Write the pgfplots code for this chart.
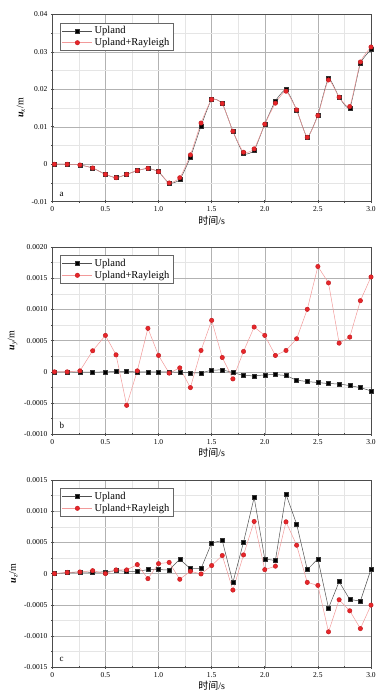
\documentclass[border=0pt]{standalone}
\usepackage{fontspec}
\setmainfont{Liberation Serif}
\newfontfamily\cjk{Noto Sans CJK SC}
\usepackage{pgfplots}
\usepackage{pgfplotstable}
\pgfplotsset{compat=1.18}

\definecolor{rmark}{HTML}{E8262A}
\definecolor{rline}{HTML}{F29A9A}
\definecolor{bline}{HTML}{505050}

\pgfplotstableread{
t a1 a2
0.02 0 0
0.14 0 0
0.26 -0.0002 -0.0002
0.38 -0.0010 -0.0010
0.5 -0.0027 -0.0027
0.6 -0.0036 -0.0036
0.7 -0.0027 -0.0027
0.8 -0.0017 -0.0017
0.9 -0.0011 -0.0011
1.0 -0.0020 -0.0020
1.1 -0.0051 -0.0050
1.2 -0.0041 -0.0036
1.3 0.0019 0.0025
1.4 0.0102 0.0110
1.5 0.0173 0.0173
1.6 0.0162 0.0162
1.7 0.0088 0.0088
1.8 0.0028 0.0032
1.9 0.0037 0.0041
2.0 0.0107 0.0107
2.1 0.0169 0.0163
2.2 0.0199 0.0195
2.3 0.0145 0.0145
2.4 0.0072 0.0072
2.5 0.0132 0.0130
2.6 0.0229 0.0225
2.7 0.0179 0.0179
2.8 0.0150 0.0154
2.9 0.0269 0.0273
3.0 0.0306 0.0313
}\tabA

\pgfplotstableread{
t b1 b2
0.02 0 0
0.14 0 0
0.26 -0.000005 0.000016
0.38 -0.000005 0.000338
0.5 0 0.000584
0.6 0.000005 0.000273
0.7 0.000005 -0.000536
0.8 0 0.000016
0.9 0 0.000697
1.0 0 0.000263
1.1 0 -0.00002
1.2 -0.000005 0.000064
1.3 -0.000016 -0.000252
1.4 -0.000016 0.000343
1.5 0.000027 0.000825
1.6 0.000032 0.00023
1.7 -0.00001 -0.000113
1.8 -0.000059 0.000327
1.9 -0.000064 0.000718
2.0 -0.000048 0.000584
2.1 -0.000043 0.000263
2.2 -0.000059 0.000343
2.3 -0.000134 0.00053
2.4 -0.000155 0.001002
2.5 -0.000171 0.001688
2.6 -0.000188 0.001425
2.7 -0.000193 0.00046
2.8 -0.00022 0.000557
2.9 -0.000252 0.00114
3.0 -0.000305 0.00152
}\tabB

\pgfplotstableread{
t c1 c2
0.02 0 0
0.14 0.000016 0.00002
0.26 0.000027 0.000027
0.38 0.00002 0.000048
0.5 0.00003 0
0.6 0.000048 0.00006
0.7 0.000038 0.00006
0.8 0.000038 0.000145
0.9 0.000064 -0.00008
1.0 0.000064 0.00016
1.1 0.00006 0.00018
1.2 0.00023 -0.00009
1.3 0.00008 0.000038
1.4 0.00008 -0.000005
1.5 0.000493 0.00013
1.6 0.00053 0.00029
1.7 -0.00014 -0.000263
1.8 0.000504 0.0003
1.9 0.00122 0.000836
2.0 0.000236 0.000064
2.1 0.00021 0.00012
2.2 0.00127 0.00083
2.3 0.000793 0.000455
2.4 0.000064 -0.00014
2.5 0.000236 -0.000188
2.6 -0.000552 -0.000932
2.7 -0.000129 -0.000418
2.8 -0.000413 -0.000595
2.9 -0.00044 -0.00088
3.0 0.00007 -0.000504
}\tabC

\pgfplotsset{
  panel/.style={
    width=318.7pt, height=187.3pt, scale only axis,
    xmin=0, xmax=3,
    xtick={0,0.5,1,1.5,2,2.5,3},
    xticklabels={0,0.5,1.0,1.5,2.0,2.5,3.0},
    minor x tick num=1, minor y tick num=1,
    scaled ticks=false,
    grid=both,
    major grid style={black!30, line width=0.5pt},
    minor grid style={black!10, line width=0.4pt},
    axis line style={black!70, line width=0.7pt},
    tick style={black!70, line width=0.6pt},
    major tick length=3pt, minor tick length=2pt,
    tick align=center,
    xtick pos=bottom, ytick pos=left,
    tick label style={font=\fontsize{7.5}{8}\selectfont},
    label style={font=\fontsize{10}{11}\selectfont},
    xlabel={{\cjk 时间}/s},
    xlabel style={yshift=3pt},
    legend style={at={(0.024,0.955)}, anchor=north west, draw=black!60,
      font=\fontsize{10.5}{11}\selectfont, inner xsep=2pt, inner ysep=1.5pt, row sep=-1pt,
      cells={anchor=west}},
    legend image code/.code={\draw[mark repeat=2,mark phase=2] plot coordinates {(0pt,0pt) (15pt,0pt) (30pt,0pt)};},
  },
  bser/.style={bline, line width=0.5pt, mark=square*, mark size=2pt, mark options={solid, fill=black, draw=black!80}},
  rser/.style={rline, line width=0.5pt, mark=*, mark size=2.2pt, mark options={solid, fill=rmark, draw=rmark!85!black}},
}

\begin{document}
\begin{tikzpicture}
\path[use as bounding box] (0,0) rectangle (380pt,699pt);

\begin{axis}[panel, at={(52.3pt,497.3pt)}, anchor=south west,
  ymin=-0.01, ymax=0.04,
  ytick={-0.01,0,0.01,0.02,0.03,0.04},
  yticklabels={-0.01,0,0.01,0.02,0.03,0.04},
  ylabel={\textit{\textbf{u}}\textsubscript{\textit{x}}/m}]
\addplot[bser, smooth, tension=0.3] table[x=t,y=a1] {\tabA};
\addlegendentry{Upland}
\addplot[rser, smooth, tension=0.3] table[x=t,y=a2] {\tabA};
\addlegendentry{Upland+Rayleigh}
\node[anchor=base west, font=\fontsize{9}{10}\selectfont] at (axis description cs:0.012,0.03) {a};
\end{axis}

\begin{axis}[panel, at={(52.3pt,264.7pt)}, anchor=south west,
  ymin=-0.001, ymax=0.002,
  ytick={-0.001,-0.0005,0,0.0005,0.001,0.0015,0.002},
  yticklabels={-0.0010,-0.0005,0,0.0005,0.0010,0.0015,0.0020},
  ylabel={\textit{\textbf{u}}\textsubscript{\textit{y}}/m}]
\addplot[bser] table[x=t,y=b1] {\tabB};
\addlegendentry{Upland}
\addplot[rser] table[x=t,y=b2] {\tabB};
\addlegendentry{Upland+Rayleigh}
\node[anchor=base west, font=\fontsize{9}{10}\selectfont] at (axis description cs:0.012,0.03) {b};
\end{axis}

\begin{axis}[panel, at={(52.3pt,31.7pt)}, anchor=south west,
  ymin=-0.0015, ymax=0.0015,
  ytick={-0.0015,-0.001,-0.0005,0,0.0005,0.001,0.0015},
  yticklabels={-0.0015,-0.0010,-0.0005,0,0.0005,0.0010,0.0015},
  ylabel={\textit{\textbf{u}}\textsubscript{\textit{z}}/m}]
\addplot[bser] table[x=t,y=c1] {\tabC};
\addlegendentry{Upland}
\addplot[rser] table[x=t,y=c2] {\tabC};
\addlegendentry{Upland+Rayleigh}
\node[anchor=base west, font=\fontsize{9}{10}\selectfont] at (axis description cs:0.012,0.03) {c};
\end{axis}
\end{tikzpicture}
\end{document}
